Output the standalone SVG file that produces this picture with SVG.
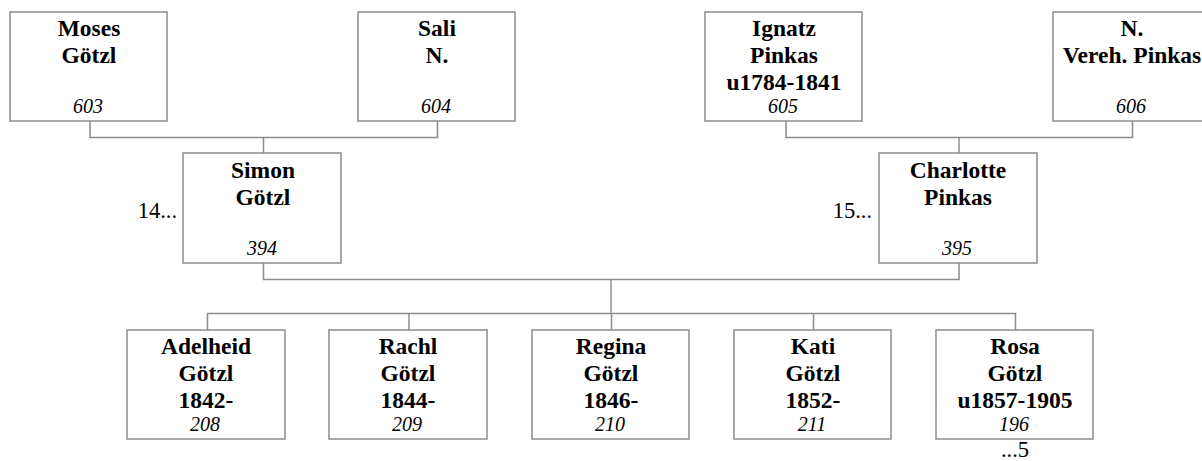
<svg xmlns="http://www.w3.org/2000/svg" width="1202" height="461" viewBox="0 0 1202 461">
<style>
rect.box{fill:#fff;stroke:#8c8c8c;stroke-width:1.5}
.c path{fill:none;stroke:#8c8c8c;stroke-width:1.5}
text{font-family:"Liberation Serif","Times New Roman",serif;fill:#000}
.n{font-weight:bold;font-size:23.5px;text-anchor:middle}
.i{font-style:italic;font-size:20px;text-anchor:middle}
.s{font-size:22.5px}
</style>
<rect width="1202" height="461" fill="#fff"/>
<g class="c" id="connectors">
<path d="M90,121V137.5H437.5V121"/>
<path d="M263.5,137.5V153"/>
<path d="M786,121V137.5H1132.5V121"/>
<path d="M959,137.5V153"/>
<path d="M263.5,263V279.5H959V263"/>
<path d="M611,279.5V313.5"/>
<path d="M207.5,330V313.5H1015.5V330"/>
<path d="M409,313.5V330"/>
<path d="M611.5,313.5V330"/>
<path d="M813.5,313.5V330"/>
</g>
<g id="n603"><rect class="box" x="10" y="12" width="157" height="109"/><text class="n" x="89" y="36">Moses</text><text class="n" x="89" y="63">Götzl</text><text class="i" x="88" y="113">603</text></g>
<g id="n604"><rect class="box" x="358" y="12" width="157" height="109"/><text class="n" x="437" y="36">Sali</text><text class="n" x="437" y="63">N.</text><text class="i" x="436" y="113">604</text></g>
<g id="n605"><rect class="box" x="705" y="12" width="157" height="109"/><text class="n" x="784" y="36">Ignatz</text><text class="n" x="784" y="63">Pinkas</text><text class="n" x="784" y="90">u1784-1841</text><text class="i" x="783" y="113">605</text></g>
<g id="n606"><rect class="box" x="1053" y="12" width="157" height="109"/><text class="n" x="1132" y="36">N.</text><text class="n" x="1132" y="63">Vereh. Pinkas</text><text class="i" x="1131" y="113">606</text></g>
<g id="n394"><rect class="box" x="183" y="153" width="158" height="110"/><text class="n" x="263" y="178">Simon</text><text class="n" x="263" y="205">Götzl</text><text class="i" x="262" y="255">394</text><text class="s" x="177" y="218" text-anchor="end">14...</text></g>
<g id="n395"><rect class="box" x="879" y="153" width="158" height="110"/><text class="n" x="958" y="178">Charlotte</text><text class="n" x="958" y="205">Pinkas</text><text class="i" x="957" y="255">395</text><text class="s" x="872" y="218" text-anchor="end">15...</text></g>
<g id="n208"><rect class="box" x="127" y="330" width="158" height="109"/><text class="n" x="206" y="354">Adelheid</text><text class="n" x="206" y="381">Götzl</text><text class="n" x="206" y="408">1842-</text><text class="i" x="205" y="431">208</text></g>
<g id="n209"><rect class="box" x="329" y="330" width="158" height="109"/><text class="n" x="408" y="354">Rachl</text><text class="n" x="408" y="381">Götzl</text><text class="n" x="408" y="408">1844-</text><text class="i" x="407" y="431">209</text></g>
<g id="n210"><rect class="box" x="532" y="330" width="157" height="109"/><text class="n" x="611" y="354">Regina</text><text class="n" x="611" y="381">Götzl</text><text class="n" x="611" y="408">1846-</text><text class="i" x="610" y="431">210</text></g>
<g id="n211"><rect class="box" x="734" y="330" width="157" height="109"/><text class="n" x="813" y="354">Kati</text><text class="n" x="813" y="381">Götzl</text><text class="n" x="813" y="408">1852-</text><text class="i" x="812" y="431">211</text></g>
<g id="n196"><rect class="box" x="936" y="330" width="157" height="109"/><text class="n" x="1015" y="354">Rosa</text><text class="n" x="1015" y="381">Götzl</text><text class="n" x="1015" y="408">u1857-1905</text><text class="i" x="1014" y="431">196</text><text class="s" x="1015" y="457" text-anchor="middle">...5</text></g>
</svg>
